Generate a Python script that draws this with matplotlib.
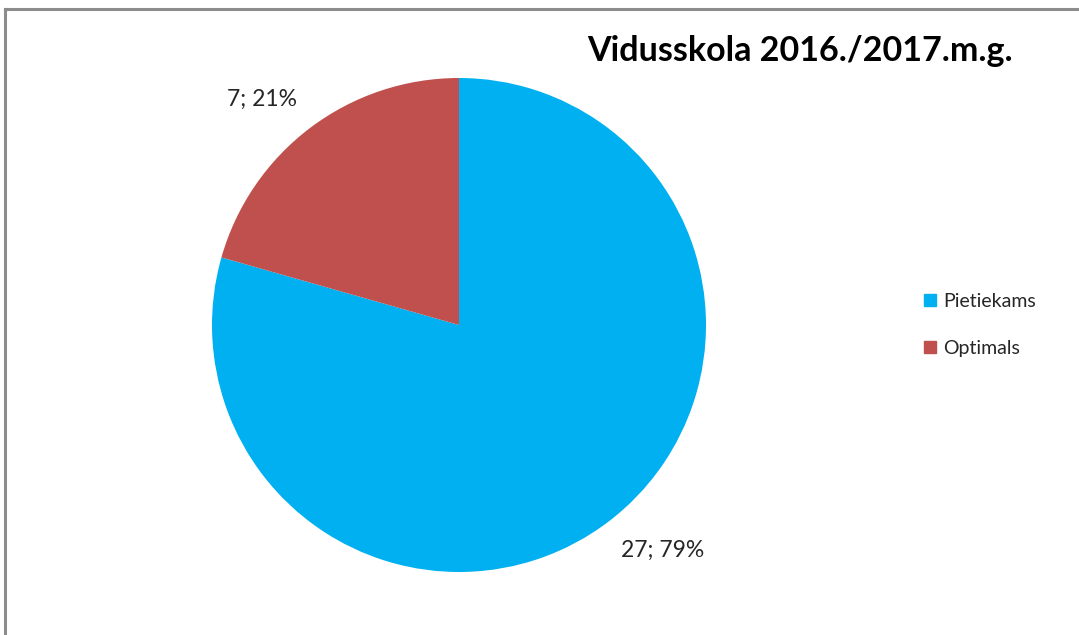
import matplotlib.pyplot as plt
from matplotlib.lines import Line2D
import numpy as np

plt.rcParams['font.family'] = ['Lato', 'DejaVu Sans']

# dati
categories = ['Pietiekams', 'Optimals']
values = [27, 7]
colors = ['#00B0F0', '#C0504D']
title = 'Vidusskola 2016./2017.m.g.'

W, H = 1079, 635
fig = plt.figure(figsize=(W / 100, H / 100), dpi=100)

# pie axes: centrs (459, 325) px, rādiuss 247 px
cx, cy, r = 459, 325, 247
ax = fig.add_axes([(cx - r) / W, (H - cy - r) / H, 2 * r / W, 2 * r / H])
total = sum(values)
labels = [f'{v}; {round(100 * v / total)}%' for v in values]
wedges, texts = ax.pie(values, colors=colors, startangle=90, counterclock=False,
                       labels=labels, labeldistance=1.09,
                       textprops={'fontsize': 16.5, 'color': '#262626'},
                       wedgeprops={'linewidth': 0})
# etiķetes piesaistītas ar stūri pie ķīļa vidus leņķa
for t in texts:
    x, y = t.get_position()
    t.set_ha('left' if x > 0 else 'right')
    t.set_va('top' if y < 0 else 'bottom')
ax.set_xlim(-1, 1)
ax.set_ylim(-1, 1)
ax.set_aspect('equal')

fig.text(800 / W, 1 - 51 / H, title, fontsize=24.5, fontweight='bold',
         ha='center', va='center', color='black')

handles = [Line2D([], [], marker='s', linestyle='none', markersize=9,
                  markerfacecolor=c, markeredgecolor=c) for c in colors]
fig.legend(handles, categories, loc='center left', bbox_to_anchor=(905 / W, 1 - 325 / H),
           frameon=False, fontsize=14, handletextpad=0.25, labelspacing=1.55,
           handlelength=0.8, labelcolor='#262626')

# rāmis
fig.add_artist(Line2D([5 / W, 5 / W], [0, 1 - 9 / H], color='#8c8c8c', lw=2.2,
                      transform=fig.transFigure))
fig.add_artist(Line2D([5 / W, 1], [1 - 9 / H, 1 - 9 / H], color='#8c8c8c', lw=2.2,
                      transform=fig.transFigure))

fig.savefig('out.png', dpi=100)
